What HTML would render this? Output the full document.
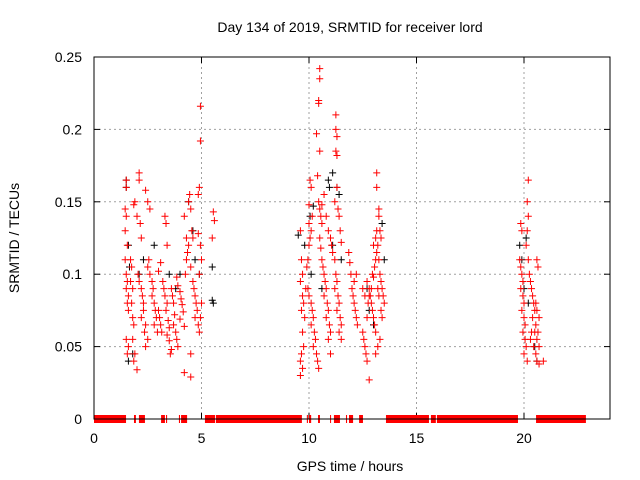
<!DOCTYPE html>
<html><head><meta charset="utf-8"><style>
body{margin:0;background:#fff;}
svg{display:block;font-family:"Liberation Sans",sans-serif;}
</style></head><body>
<svg id="chart" width="640" height="480" viewBox="0 0 640 480">
<rect width="640" height="480" fill="#fff"/>
<text x="350" y="32" font-size="14" text-anchor="middle">Day 134 of 2019, SRMTID for receiver lord</text>
<text transform="translate(19,238) rotate(-90)" font-size="14" text-anchor="middle">SRMTID / TECUs</text>
<text x="350" y="471" font-size="14" text-anchor="middle">GPS time / hours</text>
<g id="grid"></g><g id="ticks"></g><g id="zero"></g><g id="pts"></g>
<rect x="94" y="57" width="516" height="362" fill="none" stroke="#000" stroke-width="1"/>
</svg>
<script>
const xTicks=[0,5,10,15,20];
const yTicks=[0,0.05,0.1,0.15,0.2,0.25];
const yTickLabels=["0","0.05","0.1","0.15","0.2","0.25"];
const zeroSegments=[[0,1.49],[1.86,1.95],[2.09,2.37],[3.12,3.3],[3.35,3.4],[3.95,4.0],[4.05,4.33],[5.16,5.63],[5.67,9.67],[9.9,9.95],[10.0,10.1],[10.42,10.51],[10.98,11.02],[11.16,11.44],[11.72,11.77],[11.86,12.05],[12.33,12.51],[13.58,15.58],[15.67,15.9],[15.95,19.72],[20.56,22.88]];
const redTimes1=[1.45,1.5,1.5,1.45,1.5,1.55,1.45,1.5,1.55,1.5,1.6,1.55,1.6,1.5,1.6,1.55,1.7,1.75,1.7,1.8,1.75,1.8,1.85,1.8,1.9,1.85,2.0,1.9,1.85,2.1,2.1,2.0,2.15,2.2,2.05,2.1,2.2,2.25,2.3,2.3,2.2,2.4,2.35,2.5,2.4,2.4,2.5,2.6,2.55,2.5,2.6,2.7,2.75,2.7,2.8,2.85,2.9,2.8,2.95,3.0,3.05,3.1,3.15,3.0,3.1,3.2,3.25,3.3,3.4,3.35,3.45,3.5,3.4,3.5,3.6,3.55,3.3,3.35,3.4,3.6,3.65,3.7,3.75,3.7,3.8,3.85,3.9,3.85,3.9,4.0,4.05,4.1,4.15,4.0,4.2,4.25,4.3,4.35,4.4,4.3,4.2,4.4,4.45,4.5,4.55,4.6,4.5,4.6,4.65,4.7,4.75,4.8,4.7,4.85,4.9,4.95,5.0,4.9,5.0,4.95,4.85,4.9,4.85,4.95,4.95,4.2,4.5,4.5,5.55,5.6,5.5];
const redVals1=[0.13,0.165,0.16,0.145,0.14,0.12,0.11,0.1,0.095,0.09,0.085,0.08,0.075,0.055,0.05,0.045,0.11,0.105,0.095,0.09,0.08,0.07,0.065,0.055,0.045,0.04,0.034,0.15,0.148,0.17,0.165,0.14,0.135,0.125,0.1,0.095,0.09,0.085,0.08,0.075,0.07,0.065,0.06,0.055,0.05,0.158,0.15,0.145,0.11,0.105,0.1,0.095,0.09,0.085,0.08,0.075,0.07,0.065,0.06,0.075,0.07,0.065,0.06,0.102,0.108,0.095,0.09,0.085,0.08,0.075,0.068,0.063,0.058,0.054,0.048,0.045,0.14,0.135,0.12,0.09,0.085,0.08,0.072,0.065,0.06,0.055,0.05,0.098,0.092,0.088,0.083,0.079,0.074,0.069,0.064,0.1,0.11,0.115,0.12,0.125,0.14,0.15,0.155,0.145,0.13,0.125,0.105,0.095,0.09,0.085,0.08,0.075,0.07,0.065,0.06,0.07,0.08,0.1,0.11,0.12,0.128,0.16,0.155,0.192,0.216,0.032,0.029,0.045,0.143,0.137,0.125];
const redTimes2=[9.6,9.65,9.7,9.6,9.7,9.75,9.65,9.8,9.7,9.75,9.65,9.6,9.6,9.7,9.85,9.9,9.95,10.0,10.05,10.1,10.0,10.15,10.0,10.1,10.05,9.95,10.0,10.1,10.15,10.2,10.1,10.25,10.3,10.2,10.35,10.4,10.45,10.5,10.5,10.45,10.45,10.35,10.5,10.4,10.45,10.5,10.55,10.6,10.5,10.55,10.6,10.65,10.7,10.75,10.8,10.7,10.85,10.9,10.8,10.95,11.0,10.9,11.0,10.6,10.7,10.8,10.9,11.0,11.05,11.1,11.2,11.25,11.3,11.2,11.35,11.4,11.3,11.45,11.5,11.4,11.5,11.25,11.25,11.3,11.25,11.3,11.3,11.2,11.35,11.4,11.45,11.5,11.85,11.9,11.95,12.0,12.05,12.1,12.15,12.2,12.25,12.5,12.55,12.6,12.65,12.7,12.8,12.1,12.2,12.5,12.6,12.7,12.8,12.85,12.9,12.95,13.0,13.05,13.1,13.0,13.05,13.1,13.15,13.0,13.1,13.15,13.2,13.25,13.3,13.35,13.4,13.45,13.5,13.35,13.4,13.2,13.25,13.15,13.15,13.25,13.25,13.3,13.35,13.2,13.1,13.3,12.8,12.75,12.9,12.95,12.7];
const redVals2=[0.13,0.11,0.1,0.095,0.085,0.08,0.075,0.07,0.06,0.05,0.045,0.04,0.03,0.035,0.09,0.105,0.11,0.12,0.125,0.13,0.135,0.14,0.148,0.16,0.165,0.09,0.085,0.08,0.075,0.07,0.065,0.06,0.055,0.05,0.045,0.04,0.035,0.242,0.235,0.22,0.218,0.197,0.185,0.168,0.15,0.145,0.14,0.135,0.125,0.118,0.11,0.105,0.1,0.095,0.09,0.085,0.08,0.075,0.07,0.065,0.06,0.055,0.045,0.148,0.155,0.14,0.13,0.125,0.12,0.115,0.11,0.1,0.095,0.09,0.085,0.08,0.075,0.07,0.065,0.06,0.055,0.21,0.2,0.195,0.185,0.182,0.16,0.15,0.145,0.14,0.13,0.122,0.115,0.108,0.1,0.09,0.085,0.08,0.075,0.07,0.065,0.06,0.055,0.05,0.045,0.04,0.027,0.095,0.1,0.09,0.085,0.095,0.09,0.085,0.08,0.075,0.07,0.065,0.06,0.098,0.105,0.11,0.115,0.12,0.125,0.13,0.12,0.11,0.1,0.095,0.09,0.085,0.08,0.075,0.07,0.09,0.085,0.16,0.17,0.145,0.14,0.13,0.125,0.05,0.045,0.055,0.085,0.08,0.09,0.1,0.07];
const redTimes3=[19.85,19.9,19.8,19.85,19.9,19.95,19.85,19.95,20.0,19.9,20.0,20.05,19.95,20.05,20.1,20.0,20.15,20.2,20.15,20.2,20.15,20.1,20.2,20.25,20.3,20.35,20.4,20.45,20.5,20.4,20.55,20.5,20.6,20.45,20.55,20.6,20.7,20.9,20.6,20.65,20.55,20.6,20.7,20.65,20.7,20.3,20.35];
const redVals3=[0.135,0.13,0.11,0.105,0.1,0.095,0.09,0.085,0.08,0.075,0.07,0.065,0.06,0.055,0.05,0.045,0.04,0.165,0.15,0.14,0.13,0.12,0.11,0.1,0.095,0.09,0.085,0.08,0.075,0.07,0.065,0.06,0.055,0.05,0.045,0.04,0.038,0.04,0.11,0.105,0.08,0.075,0.07,0.06,0.05,0.055,0.06];
const blackTimes=[1.5,1.5,1.6,1.65,1.6,1.8,2.1,2.3,2.8,3.5,3.8,4.0,4.4,4.6,4.7,4.9,5.5,5.5,5.55,9.5,9.8,10.05,10.2,10.1,10.6,10.9,10.95,11.1,11.3,11.4,11.1,11.5,12.7,12.8,13.4,13.0,13.5,19.8,19.9,20.1,20.0,20.2,20.5,20.6];
const blackVals=[0.165,0.16,0.12,0.105,0.04,0.045,0.1,0.11,0.12,0.1,0.09,0.1,0.15,0.13,0.11,0.1,0.105,0.082,0.08,0.127,0.12,0.14,0.147,0.1,0.09,0.165,0.16,0.17,0.16,0.155,0.12,0.11,0.09,0.075,0.135,0.065,0.11,0.12,0.11,0.125,0.09,0.08,0.05,0.04];

const X=t=>94+21.5*t, Y=v=>419-1448*v;
const NS="http://www.w3.org/2000/svg";
function mk(tag,attrs,parent){const e=document.createElementNS(NS,tag);for(const k in attrs)e.setAttribute(k,attrs[k]);parent.appendChild(e);return e;}
const grid=document.getElementById('grid'),ticks=document.getElementById('ticks'),zero=document.getElementById('zero'),pts=document.getElementById('pts');
xTicks.forEach(t=>{
  if(t>0){const g=mk('line',{x1:X(t),x2:X(t),y1:57,y2:419,stroke:'#a0a0a0','stroke-dasharray':'2,3'},grid);
  
  }
  mk('line',{x1:X(t),x2:X(t),y1:419,y2:413,stroke:'#000'},ticks);
  mk('line',{x1:X(t),x2:X(t),y1:57,y2:63,stroke:'#000'},ticks);
  const l=mk('text',{x:X(t),y:443,'font-size':14,'text-anchor':'middle'},ticks);l.textContent=t;
  
  
});
yTicks.forEach((v,i)=>{
  if(v>0){const g=mk('line',{x1:94,x2:610,y1:Y(v),y2:Y(v),stroke:'#a0a0a0','stroke-dasharray':'2,3'},grid);
  
  }
  mk('line',{x1:94,x2:100,y1:Y(v),y2:Y(v),stroke:'#000'},ticks);
  mk('line',{x1:604,x2:610,y1:Y(v),y2:Y(v),stroke:'#000'},ticks);
  const l=mk('text',{x:82,y:Y(v)+5,'font-size':14,'text-anchor':'end'},ticks);l.textContent=yTickLabels[i];
  
  
});
zeroSegments.forEach(s=>{
  const r=mk('rect',{x:X(s[0]),y:Y(0)-4,width:Math.max(1,X(s[1])-X(s[0])),height:8,fill:'#ff0000'},zero);
  
  
});
function plus(t,v,col,name){
  const p=mk('path',{d:`M${X(t)-3.5},${Y(v)}h7M${X(t)},${Y(v)-3.5}v7`,stroke:col,'stroke-width':1,fill:'none'},pts);
  
  
}
blackTimes.forEach((t,i)=>plus(t,blackVals[i],'#000','black-point'));
[[redTimes1,redVals1],[redTimes2,redVals2],[redTimes3,redVals3]].forEach(([ts,vs])=>ts.forEach((t,i)=>plus(t,vs[i],'#ff0000','red-point')));
</script>
</body></html>
